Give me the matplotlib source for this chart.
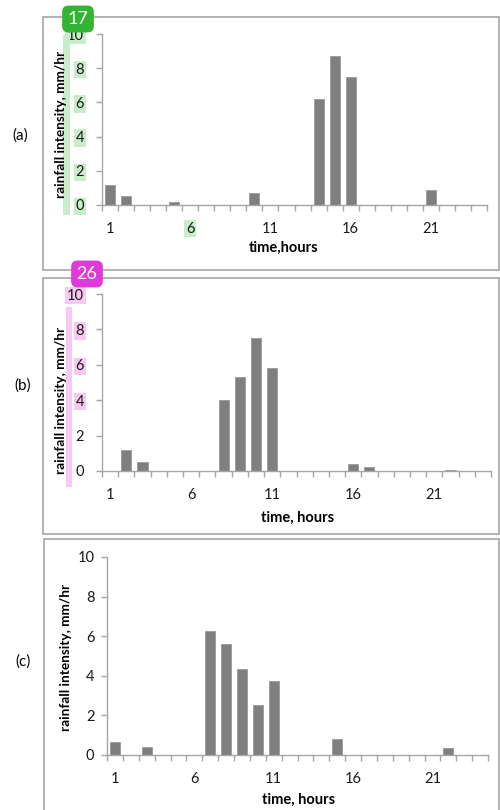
import matplotlib
matplotlib.use('Agg')
import matplotlib.pyplot as plt
from matplotlib.patches import Rectangle
import numpy as np

plt.rcParams['font.family'] = ['Lato', 'DejaVu Sans']

hours = np.arange(1, 25)
xtick_labels = ['1', '6', '11', '16', '21']
ytick_labels = ['0', '2', '4', '6', '8', '10']

# rainfall intensity, mm/hr, hour by hour
rain_a = [1.15, 0.55, 0, 0, 0.2, 0, 0, 0, 0, 0.7, 0, 0,
          0, 6.2, 8.7, 7.5, 0, 0, 0, 0, 0.9, 0, 0, 0]
rain_b = [0, 1.2, 0.5, 0, 0, 0, 0, 4.0, 5.3, 7.5, 5.8, 0,
          0, 0, 0, 0.4, 0.25, 0, 0, 0, 0, 0.08, 0, 0]
rain_c = [0.65, 0, 0.4, 0, 0, 0, 6.25, 5.6, 4.35, 2.55, 3.75, 0,
          0, 0, 0.8, 0, 0, 0, 0, 0, 0, 0.35, 0, 0]

W, H = 500, 810
fig = plt.figure(figsize=(W / 100, H / 100), dpi=100)


def px_rect(l, r, t, b):
    return [l / W, 1 - b / H, (r - l) / W, (b - t) / H]


def fx(x):
    return x / W


def fy(y):
    return 1 - y / H


grey = '#a6a6a6'


def panel(rect, data, ypad):
    ax = fig.add_axes(rect)
    ax.bar(hours, data, width=0.62, color='#7f7f7f', edgecolor='#9a9a9a', linewidth=0.6, zorder=2)
    ax.set_xlim(0.5, 24.5)
    ax.set_ylim(0, 10)
    for s in ['top', 'right']:
        ax.spines[s].set_visible(False)
    for s in ['left', 'bottom']:
        ax.spines[s].set_color(grey)
        ax.spines[s].set_linewidth(1.0)
    ax.set_xticks([1, 6, 11, 16, 21])
    xl = ax.set_xticklabels(xtick_labels, fontsize=10.5, color='#1a1a1a')
    ax.set_xticks(np.arange(0.5, 25, 1), minor=True)
    ax.tick_params(axis='x', which='major', length=0, pad=12)
    ax.tick_params(axis='x', which='minor', length=4.5, color=grey, width=1, direction='out')
    ax.set_yticks([0, 2, 4, 6, 8, 10])
    yl = ax.set_yticklabels(ytick_labels, fontsize=10.5, color='#1a1a1a')
    ax.tick_params(axis='y', length=4, color=grey, width=1, pad=ypad)
    ax.set_facecolor('none')
    return ax, xl, yl


# panel frames
for (l, r, t, b) in [(43, 499, 17, 270), (43, 499, 278, 534), (44, 499, 539, 815)]:
    fig.patches.append(Rectangle((fx(l), fy(b)), fx(r - l), (b - t) / H, fill=False,
                                 edgecolor=grey, linewidth=1.2, transform=fig.transFigure))

ax_a, xl_a, yl_a = panel(px_rect(102, 487, 34, 205), rain_a, 9)
ax_b, xl_b, yl_b = panel(px_rect(102, 491, 294, 471), rain_b, 9)
ax_c, xl_c, yl_c = panel(px_rect(107, 488, 557, 755), rain_c, 5)

# highlight marks on ticks
green_hl = '#c9ecc9'
pink_hl = '#f7c9f1'
for t in yl_a:
    t.set_bbox(dict(boxstyle='square,pad=0.12', fc=green_hl, ec='none'))
xl_a[1].set_bbox(dict(boxstyle='square,pad=0.12', fc=green_hl, ec='none'))
for t in yl_b[2:]:
    t.set_bbox(dict(boxstyle='square,pad=0.12', fc=pink_hl, ec='none'))

fig.patches.append(Rectangle((fx(63), fy(215)), fx(7), 180 / H, fc=green_hl, ec='none',
                             transform=fig.transFigure, zorder=0))
fig.patches.append(Rectangle((fx(66), fy(487)), fx(6), 180 / H, fc=pink_hl, ec='none',
                             transform=fig.transFigure, zorder=0))

ylab = 'rainfall intensity, mm/hr'
fig.text(fx(61), fy(124), ylab, rotation=90, ha='center', va='center', fontsize=9.8, fontweight='bold')
fig.text(fx(61), fy(400), ylab, rotation=90, ha='center', va='center', fontsize=9.8, fontweight='bold')
fig.text(fx(66), fy(657), ylab, rotation=90, ha='center', va='center', fontsize=9.8, fontweight='bold')

fig.text(fx(284), fy(248), 'time,hours', ha='center', va='center', fontsize=10.5, fontweight='bold')
fig.text(fx(298), fy(518), 'time, hours', ha='center', va='center', fontsize=10.5, fontweight='bold')
fig.text(fx(299), fy(800), 'time, hours', ha='center', va='center', fontsize=10.5, fontweight='bold')

fig.text(fx(20), fy(136), '(a)', ha='center', va='center', fontsize=11)
fig.text(fx(23), fy(386), '(b)', ha='center', va='center', fontsize=11)
fig.text(fx(23), fy(662), '(c)', ha='center', va='center', fontsize=11)

# numbered badges
fig.text(fx(78), fy(19), '17', ha='center', va='center', fontsize=13, color='white', zorder=10,
         bbox=dict(boxstyle='round,pad=0.3,rounding_size=0.35', fc='#33b433', ec='none'))
fig.text(fx(87), fy(274), '26', ha='center', va='center', fontsize=13, color='white', zorder=10,
         bbox=dict(boxstyle='round,pad=0.3,rounding_size=0.35', fc='#e03ad6', ec='none'))

fig.savefig('out.png', dpi=100)
